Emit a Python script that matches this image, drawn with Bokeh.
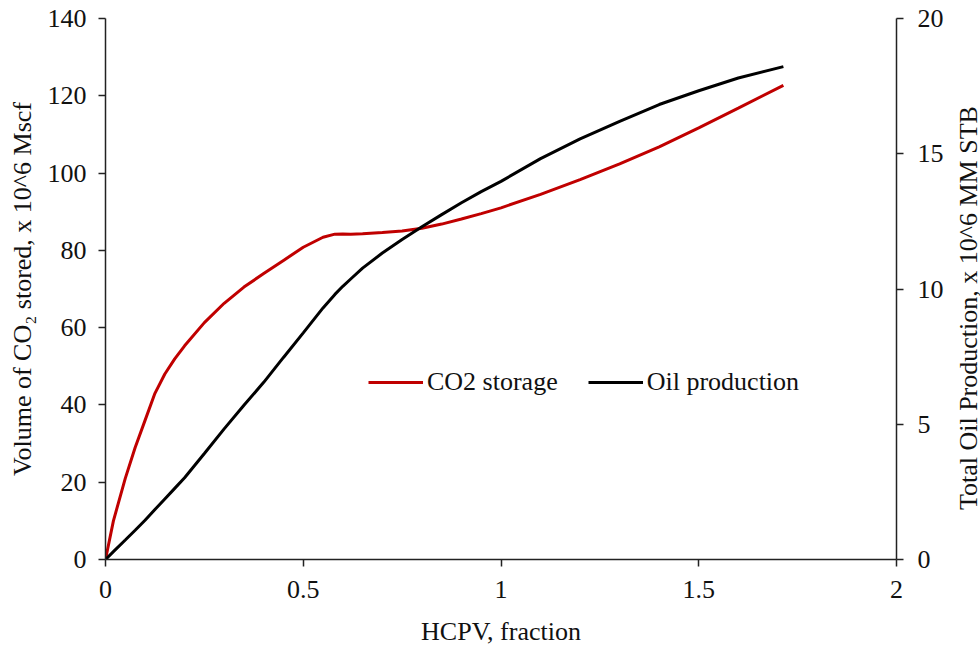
import math
from bokeh.plotting import figure
from bokeh.layouts import row
from bokeh.models import Range1d, LinearAxis, FixedTicker, NumeralTickFormatter, Legend, LegendItem, Label
from bokeh.embed import file_html
from bokeh.resources import INLINE

# HCPV, fraction
hcpv = [0.0, 0.02, 0.05, 0.075, 0.1, 0.125, 0.15, 0.175, 0.2, 0.25, 0.3, 0.35, 0.4, 0.45,
        0.5, 0.55, 0.58, 0.6, 0.62, 0.65, 0.7, 0.75, 0.8, 0.85, 0.9, 0.95, 1.0,
        1.1, 1.2, 1.3, 1.4, 1.5, 1.6, 1.714]
# Volume of CO2 stored, x 10^6 Mscf
co2_storage = [0.0, 10.0, 21.0, 29.0, 36.0, 43.0, 48.0, 51.9, 55.3, 61.3, 66.3, 70.5, 74.0, 77.4,
               80.8, 83.4, 84.2, 84.25, 84.2, 84.3, 84.6, 85.0, 85.7, 86.8, 88.1, 89.5, 91.0,
               94.5, 98.3, 102.4, 106.8, 111.7, 116.8, 122.7]
# Total oil production, x 10^6 MM STB
oil_production = [0.0, 0.29, 0.72, 1.08, 1.45, 1.85, 2.24, 2.63, 3.02, 3.92, 4.83, 5.70, 6.55, 7.47,
                  8.38, 9.30, 9.80, 10.10, 10.37, 10.77, 11.33, 11.83, 12.30, 12.75, 13.19, 13.60, 13.98,
                  14.82, 15.55, 16.20, 16.82, 17.33, 17.80, 18.22]

x_ticks = [0, 0.5, 1, 1.5, 2]
left_ticks = [0, 20, 40, 60, 80, 100, 120, 140]
right_ticks = [0, 5, 10, 15, 20]

FONT = "Liberation Serif"
FS = "26px"

p = figure(width=950, height=648, output_backend="svg", toolbar_location=None,
           x_range=Range1d(0, 2), y_range=Range1d(0, 140))
p.min_border_left = 105
p.min_border_right = 54
p.min_border_top = 18
p.min_border_bottom = 88
p.outline_line_color = None
p.xgrid.visible = False
p.ygrid.visible = False
p.background_fill_color = "white"
p.border_fill_color = "white"

p.extra_y_ranges = {"oil": Range1d(0, 20)}
raxis = LinearAxis(y_range_name="oil")
p.add_layout(raxis, "right")

for ax in [p.xaxis[0], p.yaxis[0], raxis]:
    ax.axis_line_color = "#222222"
    ax.axis_line_width = 1.5
    ax.major_tick_line_color = "#222222"
    ax.major_tick_line_width = 1.5
    ax.major_tick_in = 0
    ax.major_tick_out = 7
    ax.minor_tick_line_color = None
    ax.major_label_text_font = FONT
    ax.major_label_text_font_size = FS
    ax.major_label_text_color = "#111111"
    ax.axis_label_text_font = FONT
    ax.axis_label_text_font_size = FS
    ax.axis_label_text_font_style = "normal"
    ax.axis_label_text_color = "#111111"

p.xaxis[0].ticker = FixedTicker(ticks=x_ticks)
p.xaxis[0].formatter = NumeralTickFormatter(format="0.[0]")
p.xaxis[0].axis_label = "HCPV, fraction"
p.xaxis[0].major_label_standoff = 14
p.xaxis[0].axis_label_standoff = 16

p.yaxis[0].ticker = FixedTicker(ticks=left_ticks)
p.yaxis[0].axis_label = "Volume of CO\u2082 stored, x 10^6 Mscf"
p.yaxis[0].major_label_standoff = 12
p.yaxis[0].axis_label_standoff = 8

raxis.ticker = FixedTicker(ticks=right_ticks)
raxis.major_label_standoff = 14

r1 = p.line(hcpv, co2_storage, line_color="#C00000", line_width=3)
r2 = p.line(hcpv, oil_production, line_color="#000000", line_width=3, y_range_name="oil")

legend = Legend(items=[LegendItem(label="CO2 storage", renderers=[r1]),
                       LegendItem(label="Oil production", renderers=[r2])],
                orientation="horizontal", location=(263, 162))
legend.border_line_color = None
legend.background_fill_alpha = 0
legend.label_text_font = FONT
legend.label_text_font_size = FS
legend.label_text_color = "#111111"
legend.glyph_width = 55
legend.label_standoff = 4
legend.spacing = 30
legend.padding = 5
legend.margin = 0
p.add_layout(legend, "center")

# narrow strip holding the right-hand axis title (reads bottom to top)
t = figure(width=30, height=648, output_backend="svg", toolbar_location=None,
           x_range=Range1d(0, 30), y_range=Range1d(0, 648),
           x_axis_location=None, y_axis_location=None, min_border=0)
t.outline_line_color = None
t.xgrid.visible = False
t.ygrid.visible = False
t.background_fill_color = "white"
t.border_fill_color = "white"
t.add_layout(Label(x=18, y=305, text="Total Oil Production, x 10^6  MM STB",
                   angle=math.pi / 2, text_align="center", text_baseline="middle",
                   text_font=FONT, text_font_size=FS, text_color="#111111"))

layout = row(p, t, spacing=0)
open("out.html", "w").write(file_html(layout, INLINE))
